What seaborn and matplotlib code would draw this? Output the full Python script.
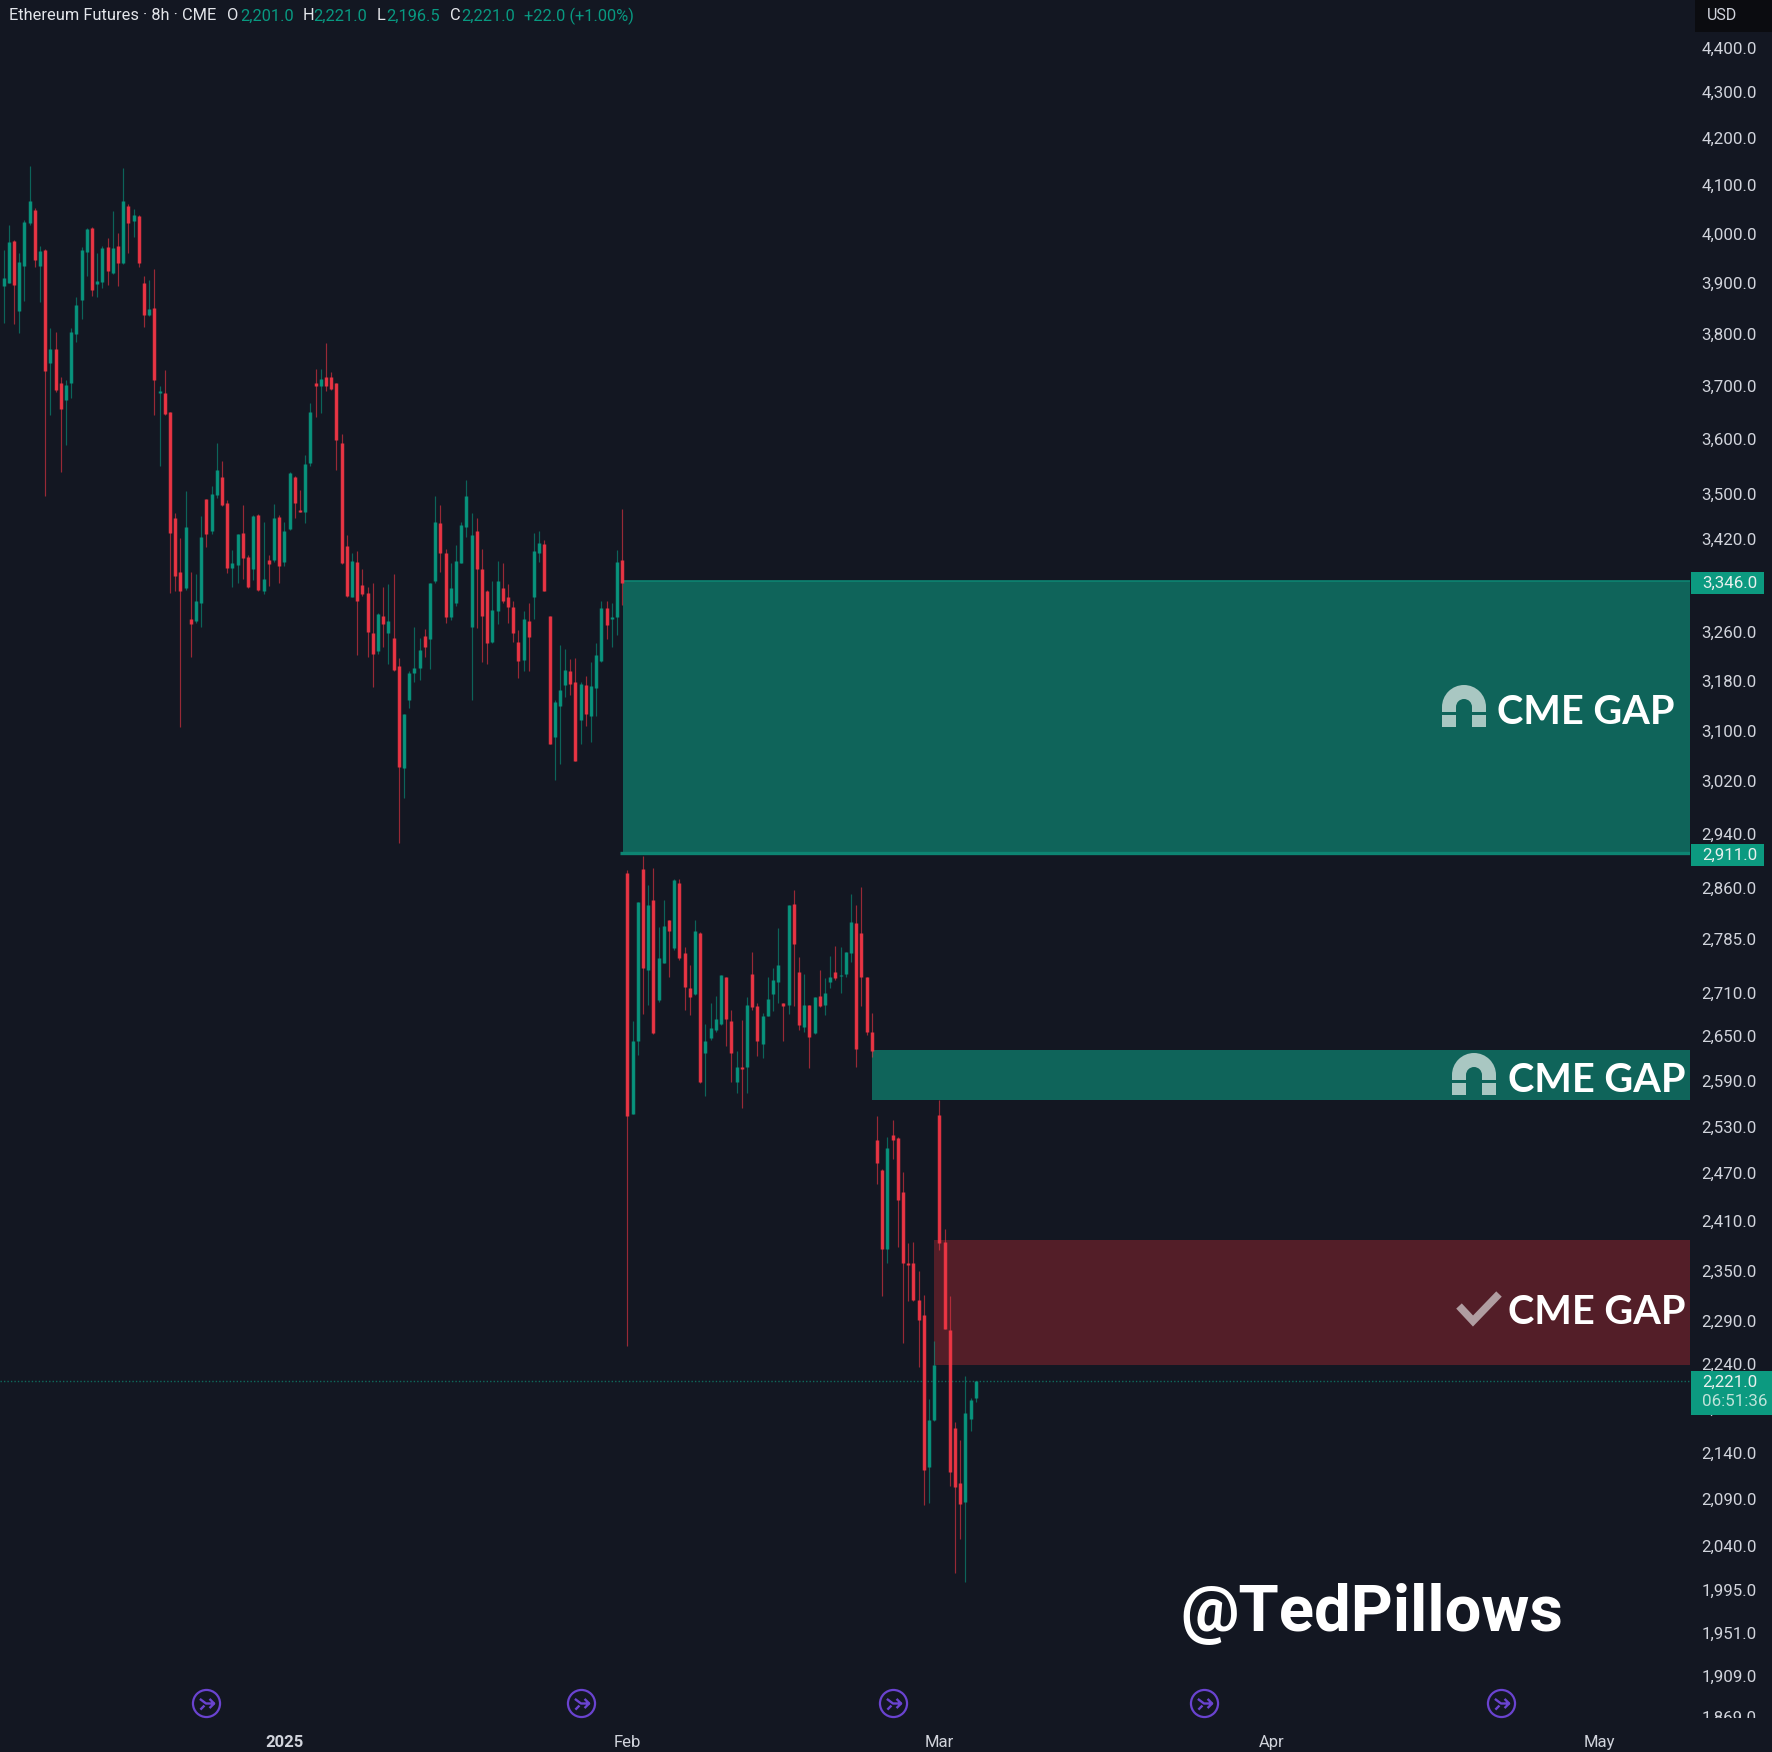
import matplotlib
matplotlib.use("Agg")
import matplotlib.pyplot as plt
import numpy as np
import pandas as pd
import seaborn as sns
from matplotlib.patches import Rectangle, Wedge
from matplotlib.path import Path
from matplotlib.lines import Line2D
from matplotlib.ticker import NullLocator
from matplotlib.transforms import Affine2D, Bbox, TransformedBbox

# 8h candles, left to right
highs = [3966, 4017, 3986, 3959, 4027, 4141, 4052, 3974, 3967, 3810,
         3803, 3715, 3710, 3810, 3872, 3973, 4010, 4012, 3959, 3974,
         3990, 4047, 4001, 4136, 4061, 4050, 4038, 3913, 3905, 3927,
         3698, 3729, 3649, 3465, 3421, 3504, 3363, 3359, 3460, 3490,
         3513, 3592, 3560, 3488, 3400, 3428, 3480, 3392, 3462, 3464,
         3450, 3392, 3482, 3462, 3450, 3540, 3532, 3507, 3570, 3667,
         3731, 3732, 3782, 3726, 3705, 3609, 3427, 3395, 3399, 3367,
         3337, 3344, 3292, 3337, 3342, 3359, 3217, 3126, 3195, 3269,
         3250, 3265, 3344, 3495, 3480, 3402, 3378, 3409, 3450, 3525,
         3465, 3456, 3402, 3331, 3346, 3382, 3377, 3342, 3312, 3264,
         3296, 3310, 3431, 3434, 3418, 3287, 3149, 3239, 3232, 3215,
         3217, 3178, 3187, 3211, 3242, 3313, 3313, 3309, 3400, 3472,
         2885, 2670, 2839, 2907, 2864, 2888, 2802, 2842, 2813, 2872,
         2872, 2774, 2749, 2813, 2795, 2667, 2696, 2705, 2735, 2732,
         2686, 2630, 2672, 2704, 2767, 2696, 2682, 2731, 2744, 2801,
         2695, 2834, 2857, 2760, 2736, 2693, 2704, 2741, 2730, 2761,
         2775, 2774, 2767, 2851, 2834, 2861, 2732, 2681, 2544, 2475,
         2517, 2538, 2517, 2472, 2383, 2385, 2349, 2321, 2200, 2267,
         2565, 2401, 2319, 2174, 2154, 2226, 2201, 2221]
body_top = [3909, 3983, 3984, 3942, 4024, 4066, 4048, 3963, 3966, 3769,
            3769, 3704, 3701, 3803, 3856, 3966, 4008, 4010, 3904, 3971,
            3973, 3971, 3974, 4066, 4057, 4038, 4036, 3900, 3847, 3849,
            3690, 3686, 3649, 3456, 3363, 3441, 3283, 3313, 3423, 3490,
            3500, 3542, 3531, 3483, 3377, 3428, 3430, 3388, 3460, 3462,
            3350, 3383, 3456, 3459, 3433, 3537, 3531, 3471, 3554, 3649,
            3704, 3713, 3715, 3715, 3705, 3592, 3407, 3382, 3380, 3340,
            3327, 3259, 3291, 3287, 3278, 3250, 3204, 3126, 3193, 3200,
            3230, 3254, 3344, 3450, 3447, 3395, 3334, 3382, 3444, 3495,
            3427, 3434, 3367, 3330, 3297, 3346, 3334, 3319, 3302, 3244,
            3283, 3279, 3398, 3412, 3411, 3287, 3146, 3164, 3198, 3195,
            3178, 3175, 3173, 3171, 3222, 3300, 3300, 3286, 3380, 3383,
            2882, 2644, 2839, 2887, 2834, 2841, 2758, 2804, 2812, 2871,
            2866, 2766, 2716, 2797, 2794, 2643, 2661, 2673, 2735, 2731,
            2671, 2608, 2609, 2693, 2736, 2691, 2677, 2701, 2727, 2749,
            2695, 2834, 2836, 2739, 2693, 2692, 2704, 2705, 2710, 2732,
            2738, 2735, 2767, 2810, 2808, 2794, 2732, 2655, 2512, 2474,
            2502, 2519, 2515, 2446, 2359, 2359, 2315, 2297, 2177, 2239,
            2545, 2385, 2279, 2167, 2107, 2184, 2199, 2221]
body_bottom = [3893, 3899, 3895, 3844, 3934, 4021, 3946, 3934, 3728, 3743,
               3691, 3655, 3672, 3704, 3799, 3866, 3961, 3885, 3897, 3902,
               3924, 3919, 3939, 3939, 4022, 4025, 3940, 3836, 3835, 3710,
               3686, 3646, 3430, 3355, 3329, 3334, 3274, 3278, 3310, 3428,
               3433, 3498, 3480, 3369, 3370, 3374, 3386, 3336, 3367, 3331,
               3329, 3376, 3383, 3372, 3380, 3438, 3484, 3468, 3468, 3555,
               3699, 3699, 3698, 3693, 3598, 3378, 3321, 3320, 3313, 3325,
               3261, 3224, 3228, 3274, 3259, 3198, 3042, 3040, 3148, 3193,
               3200, 3236, 3248, 3346, 3395, 3286, 3285, 3309, 3378, 3441,
               3268, 3367, 3287, 3242, 3243, 3295, 3313, 3302, 3259, 3213,
               3214, 3252, 3319, 3396, 3330, 3079, 3089, 3139, 3173, 3175,
               3051, 3117, 3126, 3123, 3168, 3213, 3272, 3283, 3286, 3343,
               2544, 2546, 2643, 2744, 2742, 2654, 2699, 2752, 2797, 2772,
               2758, 2718, 2704, 2708, 2588, 2627, 2647, 2659, 2667, 2674,
               2627, 2589, 2606, 2608, 2690, 2643, 2639, 2678, 2708, 2725,
               2691, 2693, 2778, 2665, 2663, 2649, 2654, 2691, 2693, 2724,
               2730, 2733, 2736, 2765, 2632, 2732, 2655, 2630, 2483, 2376,
               2376, 2513, 2436, 2359, 2357, 2315, 2291, 2121, 2125, 2176,
               2383, 2281, 2119, 2103, 2085, 2087, 2178, 2201]
lows = [3820, 3899, 3818, 3801, 3864, 4017, 3932, 3862, 3496, 3644,
        3688, 3540, 3589, 3676, 3784, 3829, 3913, 3874, 3872, 3889,
        3895, 3917, 3893, 3938, 3959, 3992, 3931, 3813, 3834, 3644,
        3550, 3644, 3326, 3329, 3105, 3331, 3219, 3275, 3269, 3405,
        3428, 3492, 3478, 3360, 3337, 3344, 3351, 3334, 3349, 3330,
        3325, 3338, 3380, 3343, 3372, 3436, 3456, 3468, 3448, 3550,
        3641, 3647, 3690, 3691, 3543, 3376, 3320, 3319, 3222, 3321,
        3219, 3169, 3224, 3236, 3208, 3195, 2926, 2994, 3135, 3178,
        3181, 3219, 3199, 3343, 3363, 3275, 3281, 3304, 3377, 3424,
        3149, 3267, 3211, 3208, 3242, 3274, 3310, 3275, 3244, 3184,
        3195, 3196, 3282, 3380, 3330, 3079, 3022, 3047, 3153, 3157,
        3051, 3078, 3107, 3082, 3123, 3211, 3248, 3236, 3255, 3306,
        2261, 2546, 2625, 2680, 2693, 2653, 2697, 2752, 2731, 2770,
        2756, 2686, 2679, 2707, 2587, 2570, 2645, 2655, 2665, 2636,
        2589, 2574, 2554, 2574, 2686, 2623, 2620, 2677, 2685, 2695,
        2644, 2680, 2691, 2658, 2656, 2607, 2653, 2690, 2679, 2716,
        2727, 2710, 2732, 2753, 2609, 2691, 2652, 2622, 2457, 2319,
        2359, 2488, 2378, 2264, 2313, 2314, 2236, 2084, 2086, 2175,
        2375, 2281, 2104, 2012, 2048, 2003, 2164, 2196.5]
directions = ("GGRGGGRGRG" "RRGGGGGRGG" "RGRGRGRRGR" "GRRRRGRGGR" "GGRRGGRRGR"
              "GRGRGGRRGG" "RGRRRRRGRR" "RRGRGRRGGG" "GRGGRRGGGG" "GRRRGGRRRR"
              "GRGGRRGGGR" "RGRGGGRGGR" "RGGRGRGGRG" "RRRGRGGGGR" "RGRGRRGGGG"
              "RGRRGRGRGG" "RGGGRRRRRR" "GRRRRRRRGG" "RRRRRGGG")

price_ticks = [4400, 4300, 4200, 4100, 4000, 3900, 3800, 3700, 3600, 3500, 3420,
               3340, 3260, 3180, 3100, 3020, 2940, 2860, 2785, 2710, 2650, 2590,
               2530, 2470, 2410, 2350, 2290, 2240, 2190, 2140, 2090, 2040, 1995,
               1951, 1909, 1869]
date_ticks = [54, 120, 180, 244, 307]
date_labels = ["2025", "Feb", "Mar", "Apr", "May"]

# gap zones: first candle, upper price, lower price
gap_start = [119.2, 167.1, 179]
gap_upper = [3346, 2631, 2387]
gap_lower = [2911, 2564, 2239]

event_idx = [39, 111, 171, 231, 288]
event_price = 1882
last_price = 2221

BG = "#131722"
GREEN = "#089981"
RED = "#f23645"
ZONE_GREEN = "#0f645a"
ZONE_RED = "#531e28"
TEXT = "#d1d4dc"
W, H = 1772, 1752
X0, X_END = -0.71, 324.4

sns.set_theme(style="dark", rc={"axes.facecolor": BG, "figure.facecolor": BG})
plt.rcParams["font.family"] = ["Roboto", "DejaVu Sans"]

df = pd.DataFrame({"candle": np.arange(len(highs)), "high": highs, "top": body_top,
                   "bottom": body_bottom, "low": lows, "dir": list(directions)})
wicks = df.melt(id_vars=["candle", "dir"], value_vars=["high", "low"], value_name="price")
bodies = df.melt(id_vars=["candle", "dir"], value_vars=["top", "bottom"], value_name="price")
colors = {"G": GREEN, "R": RED}

fig = plt.figure(figsize=(W / 100, H / 100), dpi=100)
ax = fig.add_axes([0, (H - 1718) / H, 1690 / W, 1718 / H])
ax.set_yscale("log")

# figure pixels, y going down like in the screenshot
px = Affine2D().scale(1 / W, -1 / H).translate(0, 1) + fig.transFigure

for start, up, lo, zc in zip(gap_start, gap_upper, gap_lower, [ZONE_GREEN, ZONE_GREEN, ZONE_RED]):
    ax.fill_between([start, X_END], lo, up, color=zc, lw=0, zorder=1)
ax.plot([118.6, X_END], [gap_lower[0]] * 2, color="#0d8472", lw=2.4, zorder=1.2, solid_capstyle="butt")
ax.plot([gap_start[0], X_END], [gap_upper[0]] * 2, color="#0d8472", lw=1.2, zorder=1.2)
ax.axhline(last_price, color="#0f6a5c", lw=1, ls=(0, (1, 1.5)), zorder=1.5)

sns.lineplot(data=wicks, x="candle", y="price", hue="dir", units="candle", estimator=None,
             palette=colors, lw=0.85, alpha=0.6, legend=False, ax=ax, zorder=3,
             solid_capstyle="butt")
sns.lineplot(data=bodies, x="candle", y="price", hue="dir", units="candle", estimator=None,
             palette=colors, lw=2.5, alpha=0.92, legend=False, ax=ax, zorder=3.2,
             solid_capstyle="butt")

# arrow icons along the bottom
arrow = Path([(-0.65, 0.45), (-0.05, 0), (0.75, 0), (0.3, 0.45), (0.75, 0), (0.3, -0.45), (-0.6, -0.6), (-0.2, -0.2)],
             [Path.MOVETO, Path.LINETO, Path.LINETO, Path.MOVETO, Path.LINETO, Path.LINETO, Path.MOVETO, Path.LINETO])
ax.plot(event_idx, [event_price] * len(event_idx), ls="", marker="o", ms=19.5, mfc="none",
        mec="#6a43d0", mew=1.6, zorder=4, clip_on=False)
ax.plot(event_idx, [event_price] * len(event_idx), ls="", marker=arrow, ms=11, mfc="none",
        mec="#6a43d0", mew=1.7, zorder=4, clip_on=False)

ax.set_xlim(X0, X_END)
ax.set_ylim(1868, 4508.5)
ax.set_xlabel("")
ax.set_ylabel("")
ax.yaxis.tick_right()
ax.set_yticks(price_ticks, [f"{t:,.1f}" for t in price_ticks])
ax.yaxis.set_minor_locator(NullLocator())
ax.set_xticks(date_ticks, date_labels)
ax.tick_params(axis="y", length=0, pad=8.2, labelsize=12.2, labelcolor=TEXT)
ax.tick_params(axis="x", length=0, pad=12, labelsize=12, labelcolor=TEXT)
ax.get_xticklabels()[0].set_fontweight("bold")
ax.grid(False)
sns.despine(ax=ax, left=True, right=True, top=True, bottom=True)

# the lowest price label is cut by the date strip
clip = TransformedBbox(Bbox([[0, 34 / H], [1, 1]]), fig.transFigure)
for lab in ax.get_yticklabels():
    lab.set_clip_box(clip)
    lab.set_clip_on(True)

# price badges
for price, ypx in [("3,346.0", 583), ("2,911.0", 855)]:
    fig.add_artist(Rectangle((1691, ypx - 11), 73, 22, transform=px, fc="#0c9a80", ec="none"))
    fig.text(1702, ypx, price, transform=px, color="#e8f0ee", fontsize=12.2, va="center")
fig.add_artist(Rectangle((1691, 1371), 81, 44, transform=px, fc="#0c9a80", ec="none"))
fig.text(1702, 1382, "2,221.0", transform=px, color="#e8f0ee", fontsize=12.2, va="center")
fig.text(1702, 1401, "06:51:36", transform=px, color="#bfe3da", fontsize=12.2, va="center")
fig.add_artist(Rectangle((1695, -2), 79, 34, transform=px, fc="#0b0c10", ec="none"))
fig.text(1707, 16, "USD", transform=px, color=TEXT, fontsize=11.5, va="center")


def magnet(cx, cy, color):
    fig.add_artist(Wedge((cx, cy), 22, 180, 360, width=14, transform=px, fc=color, ec="none"))
    for lx in (cx - 22, cx + 8):
        fig.add_artist(Rectangle((lx, cy), 14, 5, transform=px, fc=color, ec="none"))
        fig.add_artist(Rectangle((lx, cy + 8), 14, 12, transform=px, fc=color, ec="none"))


magnet(1464, 707, "#a9c7c2")
magnet(1474, 1075, "#a9c7c2")
fig.add_artist(Line2D([1459, 1473, 1499], [1306, 1321, 1294], transform=px, color="#b09da1", lw=5.5,
                      solid_joinstyle="miter", solid_capstyle="butt"))

for x0, yc in [(1497, 712), (1508, 1080), (1508, 1312)]:
    fig.text(x0, yc, "CME GAP", transform=px, color="white", fontsize=28.6, va="center",
             family="Lato", fontweight="bold")

fig.text(1180, 1631, "@TedPillows", transform=px, color="white", fontsize=47, va="baseline",
         family="Roboto", fontweight="bold")

# header line
for x0, s, c in [(9, "Ethereum Futures · 8h · CME", "#e3e5ea"), (227, "O", "#e3e5ea"), (240, "2,201.0", GREEN),
                 (303, "H", "#e3e5ea"), (313, "2,221.0", GREEN), (377, "L", "#e3e5ea"), (386, "2,196.5", GREEN),
                 (450, "C", "#e3e5ea"), (461, "2,221.0", GREEN), (524, "+22.0 (+1.00%)", GREEN)]:
    fig.text(x0, 16, s, transform=px, color=c, fontsize=11.8, va="center")

fig.savefig("out.png", dpi=100, facecolor=BG)
